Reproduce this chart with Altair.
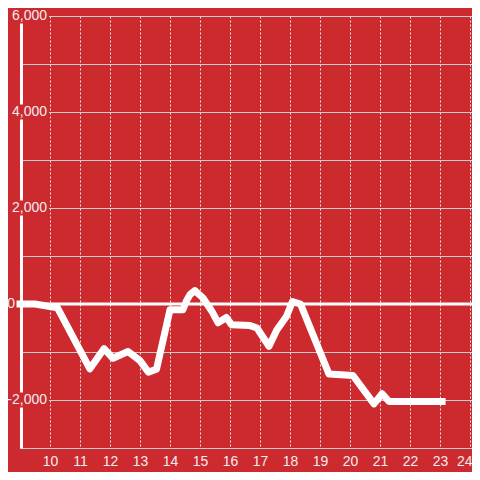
import altair as alt
import pandas as pd

# ---- data ----
hours = [9.0, 9.5, 10.25, 11.33, 11.8, 12.1, 12.6, 13.0, 13.28, 13.55, 14.0, 14.43,
         14.56, 14.67, 14.83, 15.1, 15.39, 15.6, 15.88, 16.05, 16.67, 16.9, 17.3,
         17.56, 17.88, 18.08, 18.35, 19.3, 20.1, 20.8, 21.07, 21.3, 23.07]
values = [0, 0, -80, -1350, -930, -1130, -990, -1180, -1420, -1360, -120, -120,
          80, 200, 280, 125, -145, -390, -280, -430, -450, -500, -880,
          -540, -260, 50, 0, -1460, -1490, -2080, -1870, -2030, -2030]

x_ticks = list(range(10, 25))
y_grid = list(range(-3000, 7000, 1000))
y_label_values = [6000, 4000, 2000, -2000]
y_label_texts = ["6,000", "4,000", "2,000", "-2,000"]
zero_value = [0]
zero_text = ["0"]

RED = "#cc2a2f"
TXT = "#eeeeee"
FONT = "Liberation Sans"

df = pd.DataFrame({"hour": hours, "value": values})
lab = pd.DataFrame({"value": y_label_values, "text": y_label_texts})
zlab = pd.DataFrame({"value": zero_value, "text": zero_text})

xscale = alt.Scale(domain=[9, 24.067], nice=False, zero=False)
yscale = alt.Scale(domain=[-3000, 6000], nice=False, zero=False)

x_axis = alt.Axis(
    values=x_ticks, grid=True, gridColor="#e8e8e8", gridDash=[2, 2], gridWidth=1,
    ticks=False, domainColor="#cccccc", domainWidth=1,
    labelColor=TXT, labelFontSize=14, labelFont=FONT, labelPadding=6,
    labelFlush=5, labelFlushOffset=2, labelOverlap=False, title=None)
y_axis = alt.Axis(
    values=y_grid, grid=True, gridColor="#cccccc", gridWidth=1,
    ticks=False, labels=False, domainColor="white", domainWidth=3,
    offset=-1, title=None)

line = alt.Chart(df).mark_line(
    color="white", strokeWidth=7, strokeCap="square", strokeJoin="round"
).encode(
    x=alt.X("hour:Q", scale=xscale, axis=x_axis),
    y=alt.Y("value:Q", scale=yscale, axis=y_axis),
)

zero_rule = alt.Chart(zlab).mark_rule(
    color="white", strokeWidth=3
).encode(y=alt.Y("value:Q", scale=yscale, axis=y_axis))

boxes = alt.Chart(lab).mark_rect(color=RED, height=15).encode(
    x=alt.value(-12), x2=alt.value(29),
    y=alt.Y("value:Q", scale=yscale, axis=y_axis),
)

labels = alt.Chart(lab).mark_text(
    align="right", baseline="middle", fontSize=14, font=FONT, color=TXT
).encode(
    x=alt.value(27),
    y=alt.Y("value:Q", scale=yscale, axis=y_axis),
    text="text:N",
)

zero_label = alt.Chart(zlab).mark_text(
    align="right", baseline="middle", fontSize=14, font=FONT, color=TXT
).encode(
    x=alt.value(-5),
    y=alt.Y("value:Q", scale=yscale, axis=y_axis),
    text="text:N",
)

chart = alt.layer(line, zero_rule, boxes, labels, zero_label).properties(
    width=452, height=432,
    autosize=alt.AutoSizeParams(type="none"),
    padding={"left": 12, "top": 8, "right": 0, "bottom": 24},
    background=RED,
).configure_view(stroke=None, fill=RED)

chart.save("out.html", embed_options={"renderer": "svg", "actions": False})
